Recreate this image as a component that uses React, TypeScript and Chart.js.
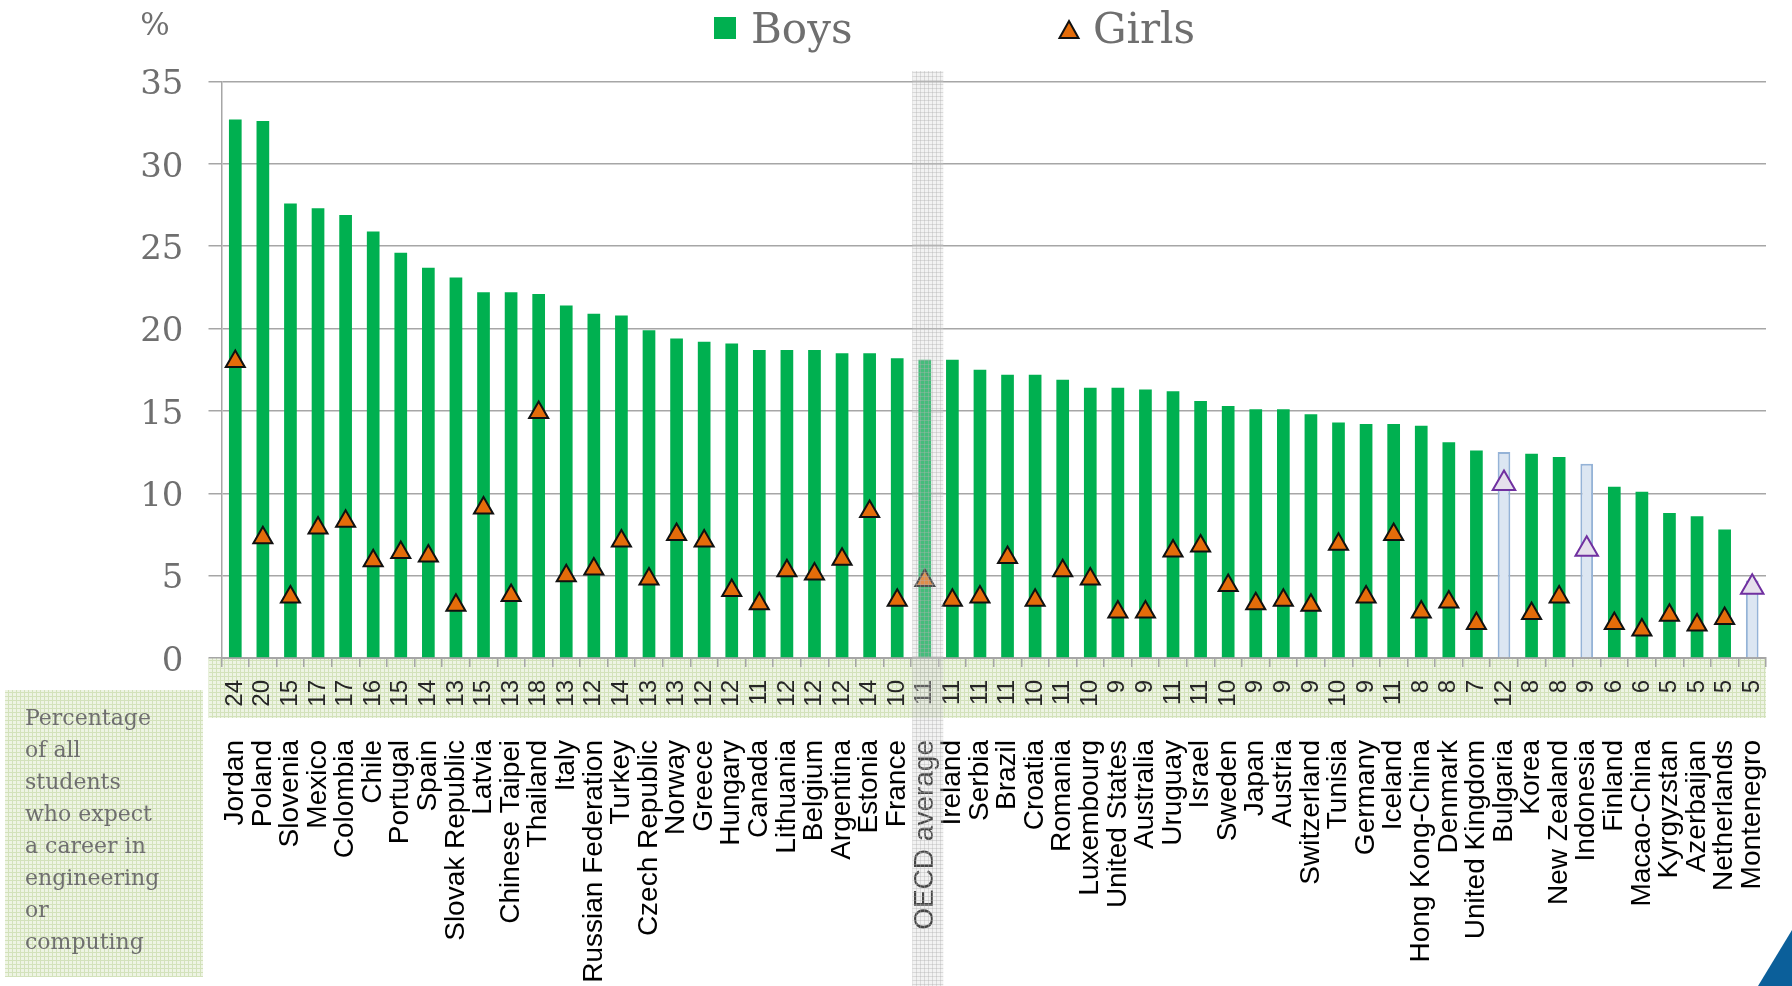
import React, { useEffect, useRef } from "react";
import { Chart, registerables } from "chart.js";

Chart.register(...registerables);

// ---------------- data ----------------
const countries = [
  "Jordan", "Poland", "Slovenia", "Mexico", "Colombia", "Chile", "Portugal", "Spain",
  "Slovak Republic", "Latvia", "Chinese Taipei", "Thailand", "Italy", "Russian Federation",
  "Turkey", "Czech Republic", "Norway", "Greece", "Hungary", "Canada", "Lithuania", "Belgium",
  "Argentina", "Estonia", "France", "OECD average", "Ireland", "Serbia", "Brazil", "Croatia",
  "Romania", "Luxembourg", "United States", "Australia", "Uruguay", "Israel", "Sweden", "Japan",
  "Austria", "Switzerland", "Tunisia", "Germany", "Iceland", "Hong Kong-China", "Denmark",
  "United Kingdom", "Bulgaria", "Korea", "New Zealand", "Indonesia", "Finland", "Macao-China",
  "Kyrgyzstan", "Azerbaijan", "Netherlands", "Montenegro",
];

const boysPct = [
  32.7, 32.6, 27.6, 27.3, 26.9, 25.9, 24.6, 23.7, 23.1, 22.2, 22.2, 22.1, 21.4, 20.9,
  20.8, 19.9, 19.4, 19.2, 19.1, 18.7, 18.7, 18.7, 18.5, 18.5, 18.2, 18.1, 18.1, 17.5,
  17.2, 17.2, 16.9, 16.4, 16.4, 16.3, 16.2, 15.6, 15.3, 15.1, 15.1, 14.8, 14.3, 14.2,
  14.2, 14.1, 13.1, 12.6, 12.5, 12.4, 12.2, 11.8, 10.4, 10.1, 8.8, 8.6, 7.8, 4.7,
];

const girlsPct = [
  18.0, 7.3, 3.7, 7.9, 8.3, 5.9, 6.4, 6.2, 3.2, 9.1, 3.8, 14.9, 5.0, 5.4,
  7.1, 4.8, 7.5, 7.1, 4.1, 3.3, 5.3, 5.1, 6.0, 8.9, 3.5, 4.7, 3.5, 3.7,
  6.1, 3.5, 5.3, 4.8, 2.8, 2.8, 6.5, 6.8, 4.4, 3.3, 3.5, 3.2, 6.9, 3.7,
  7.5, 2.8, 3.4, 2.1, 10.6, 2.7, 3.7, 6.6, 2.1, 1.7, 2.6, 2.0, 2.4, 4.3,
];

const allStudentsPct = [
  "24", "20", "15", "17", "17", "16", "15", "14", "13", "15", "13", "18", "13", "12",
  "14", "13", "13", "12", "12", "11", "12", "12", "12", "14", "10", "11", "11", "11",
  "11", "10", "11", "10", "9", "9", "11", "11", "10", "9", "9", "9", "10", "9",
  "11", "8", "8", "7", "12", "8", "8", "9", "6", "6", "5", "5", "5", "5",
];

const hollowCountries = ["Bulgaria", "Indonesia", "Montenegro"];
const highlightCategory = "OECD average";
const legendLabels = ["Boys", "Girls"];
const unitLabel = "%";
const sideNoteLines = [
  "Percentage", "of all", "students", "who expect", "a career in", "engineering", "or", "computing",
];
const yMin = 0;
const yMax = 35;
const yStep = 5;

// ---------------- styles ----------------
const W = 1792;
const H = 986;
const PLOT_LEFT = 221.5;
const PLOT_RIGHT = 1766;
const PLOT_TOP = 81.5;
const BAND_HEIGHT = 60;
const LABEL_AREA_TOP = 718;

const GREEN = "#00b050";
const ORANGE = "#e46c0a";
const LIGHT_BLUE = "#dce6f2";
const BLUE_EDGE = "#95b3d7";
const PURPLE = "#7030a0";
const LAVENDER = "#e5e0ec";
const GRID = "#a6a6a6";
const TEXT = "#6f6f6f";
const SERIF = '"DejaVu Serif", Georgia, serif';
const SANS = '"Liberation Sans", Arial, sans-serif';

function makePattern(ctx: CanvasRenderingContext2D, bg: string, line: string, size = 4) {
  const c = document.createElement("canvas");
  c.width = size;
  c.height = size;
  const g = c.getContext("2d")!;
  g.fillStyle = bg;
  g.fillRect(0, 0, size, size);
  g.fillStyle = line;
  g.fillRect(0, 0, size, 1);
  g.fillRect(0, 0, 1, size);
  return ctx.createPattern(c, "repeat")!;
}

function triangle(ctx: CanvasRenderingContext2D, cx: number, top: number, bottom: number, halfW: number) {
  ctx.beginPath();
  ctx.moveTo(cx, top);
  ctx.lineTo(cx + halfW, bottom);
  ctx.lineTo(cx - halfW, bottom);
  ctx.closePath();
}

const decorPlugin = {
  id: "decor",
  beforeDraw(chart: any) {
    const ctx: CanvasRenderingContext2D = chart.ctx;
    ctx.save();
    ctx.fillStyle = "#ffffff";
    ctx.fillRect(0, 0, W, H);

    // side note box
    ctx.fillStyle = makePattern(ctx, "#eef4e4", "#d3e2bb", 4);
    ctx.fillRect(5, 690, 198, 287);
    ctx.fillStyle = TEXT;
    ctx.font = `22px ${SERIF}`;
    ctx.textAlign = "left";
    ctx.textBaseline = "alphabetic";
    sideNoteLines.forEach((t, i) => ctx.fillText(t, 25, 725 + i * 32));

    // band behind the "all students" row
    const x2 = chart.scales.x2;
    ctx.fillStyle = makePattern(ctx, "#eef4e4", "#d3e2bb", 4);
    ctx.fillRect(x2.left - 13, x2.top, x2.right - x2.left + 13, x2.bottom - x2.top);
    ctx.restore();
  },
  afterDraw(chart: any) {
    const ctx: CanvasRenderingContext2D = chart.ctx;
    const xs = chart.scales.x;
    ctx.save();

    // OECD average highlight band
    const idx = countries.indexOf(highlightCategory);
    const cx = xs.getPixelForValue(idx) + 3;
    ctx.fillStyle = makePattern(ctx, "rgba(215,215,215,0.32)", "rgba(175,175,175,0.38)", 4);
    ctx.fillRect(cx - 15.5, 71, 31, H - 71);

    // legend
    const ds = chart.data.datasets;
    ctx.fillStyle = GREEN;
    ctx.fillRect(714, 17, 22, 22);
    ctx.fillStyle = TEXT;
    ctx.font = `42px ${SERIF}`;
    ctx.textAlign = "left";
    ctx.textBaseline = "alphabetic";
    ctx.fillText(ds[1].label, 751, 43);
    triangle(ctx, 1069, 21, 38, 9.5);
    ctx.fillStyle = ORANGE;
    ctx.fill();
    ctx.lineWidth = 2;
    ctx.strokeStyle = "#111";
    ctx.stroke();
    ctx.fillStyle = TEXT;
    ctx.fillText(ds[0].label, 1093, 43);

    // unit label
    ctx.font = `31px ${SERIF}`;
    ctx.textAlign = "center";
    ctx.textBaseline = "middle";
    ctx.fillText(unitLabel, 155, 27);

    // corner decoration
    ctx.beginPath();
    ctx.moveTo(W, 930);
    ctx.lineTo(W, H);
    ctx.lineTo(1758, H);
    ctx.closePath();
    ctx.fillStyle = "#0b5f9a";
    ctx.fill();
    ctx.restore();
  },
};

export default function App() {
  const ref = useRef<HTMLCanvasElement | null>(null);

  useEffect(() => {
    document.body.style.margin = "0";
    const canvas = ref.current!;
    const isHollow = countries.map((c) => hollowCountries.includes(c));

    const chart = new Chart(canvas, {
      type: "bar",
      data: {
        labels: countries,
        datasets: [
          {
            type: "line",
            label: legendLabels[1],
            data: girlsPct,
            showLine: false,
            order: 1,
            pointStyle: "triangle",
            pointRadius: isHollow.map((h) => (h ? 13 : 11)),
            pointHoverRadius: isHollow.map((h) => (h ? 13 : 11)),
            pointBorderWidth: 2,
            pointBackgroundColor: isHollow.map((h) => (h ? LAVENDER : ORANGE)),
            pointBorderColor: isHollow.map((h) => (h ? PURPLE : "#111111")),
            xAxisID: "x",
            yAxisID: "y",
          } as any,
          {
            type: "bar",
            label: legendLabels[0],
            data: boysPct,
            order: 2,
            backgroundColor: isHollow.map((h) => (h ? LIGHT_BLUE : GREEN)),
            borderColor: isHollow.map((h) => (h ? BLUE_EDGE : GREEN)),
            borderWidth: isHollow.map((h) => (h ? 2 : 0)),
            barPercentage: 0.46,
            categoryPercentage: 1,
            xAxisID: "x",
            yAxisID: "y",
          } as any,
        ],
      },
      options: {
        responsive: false,
        animation: false,
        devicePixelRatio: 1,
        events: [],
        layout: { padding: { left: 0, right: W - PLOT_RIGHT, top: PLOT_TOP, bottom: 0 } },
        plugins: { legend: { display: false }, tooltip: { enabled: false } },
        scales: {
          y: {
            min: yMin,
            max: yMax,
            ticks: {
              stepSize: yStep,
              color: TEXT,
              font: { family: SERIF, size: 34 },
              padding: 25,
              labelOffset: 4,
            },
            grid: { color: GRID, lineWidth: 1.5, tickLength: 13, drawTicks: true },
            border: { color: GRID, width: 1.5 },
            afterFit: (s: any) => {
              s.width = PLOT_LEFT;
              s.paddingTop = 0;
              s.paddingBottom = 0;
            },
          },
          x2: {
            type: "category",
            labels: allStudentsPct,
            position: "bottom",
            weight: 1,
            offset: true,
            ticks: {
              autoSkip: false,
              minRotation: 90,
              maxRotation: 90,
              color: "#262626",
              font: { family: SANS, size: 24 },
              padding: 13,
            },
            grid: {
              display: true,
              offset: true,
              drawOnChartArea: false,
              drawTicks: true,
              tickLength: 9,
              color: GRID,
              lineWidth: 1.5,
            },
            border: { display: true, color: GRID, width: 2 },
            afterFit: (s: any) => {
              s.height = BAND_HEIGHT;
              s.paddingLeft = 0;
              s.paddingRight = 0;
            },
          },
          x: {
            type: "category",
            position: "bottom",
            weight: 2,
            offset: true,
            ticks: {
              autoSkip: false,
              minRotation: 90,
              maxRotation: 90,
              color: "#000000",
              font: { family: SANS, size: 28 },
              padding: 22,
            },
            grid: { display: false, drawTicks: false, tickLength: 0 },
            border: { display: false },
            afterFit: (s: any) => {
              s.height = H - LABEL_AREA_TOP;
              s.paddingLeft = 0;
              s.paddingRight = 0;
            },
          },
        } as any,
      },
      plugins: [decorPlugin as any],
    });

    return () => chart.destroy();
  }, []);

  return (
    <div style={{ position: "absolute", left: 0, top: 0, width: W, height: H }}>
      <canvas ref={ref} width={W} height={H} style={{ width: W, height: H, display: "block" }} />
    </div>
  );
}
